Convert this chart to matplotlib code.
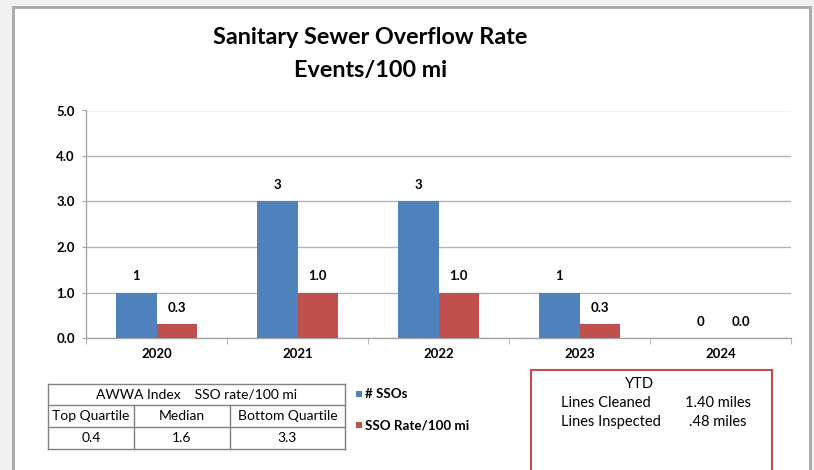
import matplotlib
matplotlib.use("Agg")
import matplotlib.pyplot as plt
from matplotlib.patches import Rectangle
from matplotlib.lines import Line2D

plt.rcParams['font.family'] = ['Lato', 'DejaVu Sans']

years = ['2020', '2021', '2022', '2023', '2024']
ssos = [1, 3, 3, 1, 0]
rate = [0.3, 1.0, 1.0, 0.3, 0.0]
ssos_labels = ['1', '3', '3', '1', '0']
rate_labels = ['0.3', '1.0', '1.0', '0.3', '0.0']
yticks = [0.0, 1.0, 2.0, 3.0, 4.0, 5.0]

title_lines = ['Sanitary Sewer Overflow Rate', 'Events/100 mi']
legend_labels = ['# SSOs', 'SSO Rate/100 mi']
table_header = 'AWWA Index    SSO rate/100 mi'
table_cols = ['Top Quartile', 'Median', 'Bottom Quartile']
table_vals = ['0.4', '1.6', '3.3']
ytd_title = 'YTD'
ytd_rows = [('Lines Cleaned', '1.40 miles'), ('Lines Inspected', '.48 miles')]

BLUE = '#4f81bd'
RED = '#c0504d'
W, H = 814, 470

fig = plt.figure(figsize=(W / 100, H / 100), dpi=100)
fig.patch.set_facecolor('#f0f0f0')

def fx(px):
    return px / W

def fy(py):
    return 1 - py / H

# chart area
fig.add_artist(Rectangle((fx(13), fy(480)), fx(810) - fx(13), fy(7) - fy(480),
                         transform=fig.transFigure, facecolor='white',
                         edgecolor='#a6a6a6', linewidth=2, zorder=0))

ax = fig.add_axes([fx(86), fy(338), fx(791) - fx(86), fy(110.5) - fy(338)])
ax.set_facecolor('white')
x = list(range(len(years)))
bw = 0.284
xb = [i - bw / 2 for i in x]
xr = [i + bw / 2 for i in x]
ax.bar(xb, ssos, width=bw, color=BLUE, zorder=3)
ax.bar(xr, rate, width=bw, color=RED, zorder=3)
for xi, v, lab in zip(xb, ssos, ssos_labels):
    ax.annotate(lab, (xi, v), xytext=(0, 7.5), textcoords='offset points',
                ha='center', va='bottom', fontsize=9.5, fontweight='bold')
for xi, v, lab in zip(xr, rate, rate_labels):
    ax.annotate(lab, (xi, v), xytext=(0, 7.5), textcoords='offset points',
                ha='center', va='bottom', fontsize=9.5, fontweight='bold')

ax.set_xlim(-0.5, len(years) - 0.5)
ax.set_ylim(0, 5)
ax.set_yticks(yticks)
ax.set_yticklabels([f'{t:.1f}' for t in yticks], fontsize=9.5, fontweight='bold')
ax.set_xticks(x)
ax.set_xticklabels(years, fontsize=9.5, fontweight='bold')
ax.set_xticks([i + 0.5 for i in x[:-1]] + [-0.5, len(years) - 0.5], minor=True)
ax.tick_params(axis='x', which='major', length=0, pad=7)
ax.tick_params(axis='x', which='minor', length=4, color='#a6a6a6', direction='out')
ax.tick_params(axis='y', length=3, color='#a6a6a6', pad=5)
ax.grid(axis='y', color='#b3b3b3', linewidth=1, zorder=0)
ax.set_axisbelow(True)
for s in ['top', 'right']:
    ax.spines[s].set_visible(False)
for s in ['left', 'bottom']:
    ax.spines[s].set_color('#a6a6a6')
    ax.spines[s].set_linewidth(1)

# title
fig.text(fx(370), fy(38), title_lines[0], ha='center', va='center',
         fontsize=16.8, fontweight='bold')
fig.text(fx(371), fy(70), title_lines[1], ha='center', va='center',
         fontsize=16.8, fontweight='bold')

# table
tl, tr = 48, 345
cols = [48, 134, 230, 345]
rows = [384, 405, 427, 449]
lc = '#808080'
for ry in rows:
    fig.add_artist(Line2D([fx(tl), fx(tr)], [fy(ry), fy(ry)], color=lc, lw=1,
                          transform=fig.transFigure))
for i, cx in enumerate(cols):
    y0 = rows[0] if i in (0, 3) else rows[1]
    fig.add_artist(Line2D([fx(cx), fx(cx)], [fy(y0), fy(rows[-1])], color=lc, lw=1,
                          transform=fig.transFigure))
fig.text(fx((tl + tr) / 2), fy((rows[0] + rows[1]) / 2), table_header,
         ha='center', va='center', fontsize=10)
for i in range(3):
    cxm = (cols[i] + cols[i + 1]) / 2
    fig.text(fx(cxm), fy((rows[1] + rows[2]) / 2), table_cols[i],
             ha='center', va='center', fontsize=10)
    fig.text(fx(cxm), fy((rows[2] + rows[3]) / 2), table_vals[i],
             ha='center', va='center', fontsize=10)

# legend
for lab, col, ly in zip(legend_labels, [BLUE, RED], [394, 425]):
    fig.add_artist(Rectangle((fx(356), fy(ly + 3)), fx(6), fy(0) - fy(6),
                             transform=fig.transFigure, facecolor=col, edgecolor='none'))
    fig.text(fx(365), fy(ly), lab, ha='left', va='center', fontsize=9.6,
             fontweight='bold')

# YTD box
fig.add_artist(Rectangle((fx(531), fy(480)), fx(772) - fx(531), fy(370) - fy(480),
                         transform=fig.transFigure, facecolor='white',
                         edgecolor='#c0504d', linewidth=1.5, zorder=1))
fig.text(fx(640), fy(384), ytd_title, ha='center', va='center', fontsize=10.5)
for (lab, val), ly in zip(ytd_rows, [403, 422]):
    fig.text(fx(561), fy(ly), lab, ha='left', va='center', fontsize=10.5)
    fig.text(fx(718), fy(ly), val, ha='center', va='center', fontsize=10.5)

fig.savefig('out.png', dpi=100, facecolor=fig.get_facecolor())
